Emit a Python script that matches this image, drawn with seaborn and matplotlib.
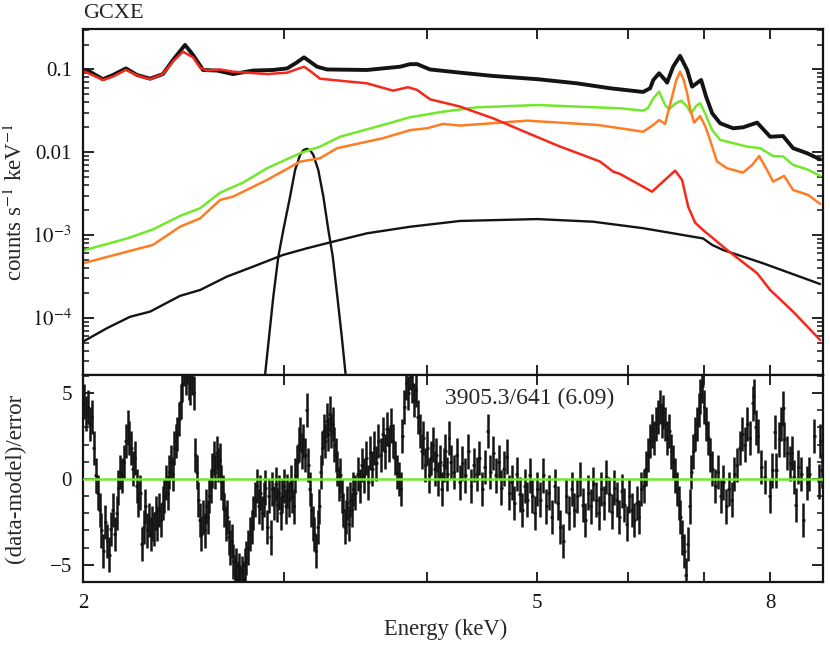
import numpy as np
import pandas as pd
import matplotlib
matplotlib.use("Agg")
import matplotlib.pyplot as plt
import seaborn as sns
from matplotlib.ticker import FixedLocator, NullLocator, FixedFormatter, NullFormatter, LogLocator, MultipleLocator

sns.set_style("ticks")
plt.rcParams["font.family"] = ["Liberation Serif", "DejaVu Serif"]
plt.rcParams["mathtext.fontset"] = "stix"

# ---------------- data ----------------
title_text = "GCXE"
chi_text = "3905.3/641 (6.09)"
x_ticks = [2, 3, 4, 5, 6, 7, 8]
x_ticklabels = ["2", "", "", "5", "", "", "8"]
y_ticks = [1e-4, 1e-3, 1e-2, 1e-1]
y_ticklabels = ["$10^{-4}$", "$10^{-3}$", "0.01", "0.1"]
r_ticks = [-5, 0, 5]
r_ticklabels = ["\u22125", "0", "5"]

# observed spectrum (total)
data_E = [2.000, 2.028, 2.082, 2.125, 2.181, 2.230, 2.290, 2.350, 2.398, 2.457,
          2.497, 2.548, 2.621, 2.707, 2.818, 2.934, 3.019, 3.074, 3.124, 3.207,
          3.272, 3.547, 3.792, 3.869, 3.924, 4.028, 4.280, 4.574, 5.009, 5.419,
          5.792, 6.191, 6.279, 6.320, 6.394, 6.472, 6.498, 6.577, 6.670, 6.766,
          6.834, 6.960, 7.030, 7.116, 7.232, 7.423, 7.574, 7.792, 8.000, 8.211,
          8.378, 8.620, 8.848]
data_v = [0.100, 0.094, 0.0762, 0.0858, 0.103, 0.0858, 0.0774, 0.088, 0.130, 0.198,
          0.150, 0.0986, 0.097, 0.088, 0.097, 0.0986, 0.103, 0.120, 0.140, 0.108,
          0.100, 0.0986, 0.108, 0.116, 0.116, 0.100, 0.0915, 0.0835, 0.0762, 0.068,
          0.0593, 0.0535, 0.0593, 0.0747, 0.090, 0.0747, 0.0693, 0.108, 0.146, 0.0986,
          0.062, 0.0747, 0.0469, 0.0296, 0.0224, 0.0195, 0.0200, 0.0228, 0.0154, 0.0157,
          0.0112, 0.00973, 0.0082]

# red component
red_E = [2.000, 2.041, 2.082, 2.125, 2.181, 2.230, 2.290, 2.350, 2.398, 2.447,
         2.497, 2.533, 2.569, 2.637, 2.707, 2.801, 2.899, 3.019, 3.074, 3.124,
         3.175, 3.226, 3.312, 3.547, 3.738, 3.853, 3.924, 4.028, 4.280, 4.574,
         4.899, 5.237, 5.529, 5.677, 5.827, 5.910, 6.304, 6.445, 6.604, 6.698,
         6.780, 6.876, 6.987, 7.334, 7.792, 8.000, 8.378, 8.848]
red_v = [0.096, 0.085, 0.0746, 0.082, 0.099, 0.085, 0.0762, 0.088, 0.125, 0.164,
         0.140, 0.105, 0.097, 0.100, 0.094, 0.091, 0.088, 0.0915, 0.100, 0.108,
         0.092, 0.0774, 0.0746, 0.068, 0.0555, 0.061, 0.0566, 0.0436, 0.0356, 0.0257,
         0.0172, 0.0117, 0.00886, 0.0077, 0.00584, 0.00547, 0.00334, 0.00442, 0.0060, 0.00462,
         0.0022, 0.00141, 0.00115, 6.6e-4, 3.46e-4, 2.17e-4, 1.19e-4, 5.4e-5]

# green component
green_E = [2.000, 2.186, 2.303, 2.432, 2.533, 2.637, 2.762, 2.899, 3.099, 3.226,
           3.359, 3.664, 3.869, 4.135, 4.429, 4.999, 5.419, 5.910, 6.191, 6.250,
           6.320, 6.394, 6.472, 6.524, 6.600, 6.684, 6.760, 6.821, 6.890, 6.946,
           7.020, 7.116, 7.232, 7.636, 7.840, 8.047, 8.211, 8.378, 8.620, 8.848]
green_v = [6.5e-4, 9.1e-4, 1.17e-3, 1.70e-3, 2.11e-3, 3.25e-3, 4.3e-3, 6.41e-3, 9.73e-3, 0.0117,
           0.0154, 0.0214, 0.0265, 0.0309, 0.0349, 0.0372, 0.0356, 0.034, 0.0318, 0.034,
           0.0449, 0.054, 0.0373, 0.033, 0.0383, 0.042, 0.0362, 0.0296, 0.0362, 0.0391,
           0.029, 0.0186, 0.0141, 0.0117, 0.0112, 0.0090, 0.0089, 0.00703, 0.00622, 0.00518]

# orange component
orange_E = [2.000, 2.186, 2.303, 2.432, 2.533, 2.637, 2.707, 2.899, 3.099, 3.226,
            3.339, 3.664, 3.869, 4.004, 4.135, 4.280, 4.899, 5.642, 5.910, 6.191,
            6.320, 6.394, 6.472, 6.564, 6.620, 6.670, 6.720, 6.766, 6.810, 6.862,
            6.946, 7.020, 7.086, 7.187, 7.334, 7.574, 7.714, 7.824, 7.950, 8.047,
            8.228, 8.378, 8.637, 8.848]
orange_v = [4.56e-4, 6.3e-4, 7.6e-4, 1.26e-3, 1.59e-3, 2.65e-3, 2.91e-3, 4.63e-3, 7.7e-3, 8.47e-3,
            0.0112, 0.0148, 0.0185, 0.0195, 0.022, 0.021, 0.0241, 0.0214, 0.0195, 0.0177,
            0.0214, 0.0245, 0.022, 0.047, 0.0746, 0.094, 0.0746, 0.0517, 0.0324, 0.0228,
            0.0274, 0.0204, 0.0141, 0.0077, 0.0064, 0.00568, 0.00703, 0.009, 0.0061, 0.00442,
            0.00518, 0.0035, 0.00305, 0.00238]

# broad black continuum component
cont_E = [2.000, 2.099, 2.199, 2.290, 2.432, 2.533, 2.674, 2.818, 2.994, 3.143,
          3.312, 3.547, 3.869, 4.280, 4.999, 5.597, 6.191, 6.987, 7.116, 7.275,
          7.886, 8.848]
cont_v = [5.16e-5, 7.5e-5, 1.03e-4, 1.19e-4, 1.84e-4, 2.17e-4, 3.15e-4, 4.15e-4, 5.75e-4, 6.93e-4,
          8.32e-4, 1.05e-3, 1.26e-3, 1.48e-3, 1.56e-3, 1.45e-3, 1.21e-3, 9.1e-4, 7.6e-4, 6.6e-4,
          4.56e-4, 2.56e-4]

# narrow black line component
gauss_E = [2.870, 2.887, 2.911, 2.936, 2.966, 2.996, 3.037, 3.068, 3.099, 3.120,
           3.141, 3.162, 3.183, 3.215, 3.248, 3.281, 3.310, 3.341, 3.371, 3.398, 3.415]
gauss_v = [1.0e-5, 2.0e-5, 5.9e-5, 1.8e-4, 5.5e-4, 1.15e-3, 2.91e-3, 6.1e-3, 9.3e-3, 1.06e-2,
           1.1e-2, 1.06e-2, 9.3e-3, 6.1e-3, 2.91e-3, 1.15e-3, 5.5e-4, 1.8e-4, 5.9e-5, 2.0e-5, 1.0e-5]

# residuals (data-model)/error
res_E = [2.004, 2.012, 2.020, 2.028, 2.036, 2.044, 2.052, 2.060,
         2.068, 2.076, 2.084, 2.092, 2.100, 2.108, 2.116, 2.124, 2.132, 2.140, 2.148, 2.156, 2.164, 2.172,
         2.180, 2.188, 2.196, 2.204, 2.212, 2.220, 2.228, 2.236, 2.244, 2.252, 2.260, 2.268,
         2.276, 2.284, 2.292, 2.300, 2.308, 2.316, 2.324, 2.332, 2.340, 2.348,
         2.356, 2.364, 2.372, 2.380, 2.388, 2.396, 2.404, 2.412, 2.420, 2.428,
         2.436, 2.444, 2.452, 2.460, 2.468, 2.476, 2.484, 2.492, 2.500,
         2.508, 2.516, 2.524, 2.532, 2.540, 2.548, 2.556, 2.564, 2.572, 2.580, 2.588, 2.596,
         2.604, 2.612, 2.620, 2.628, 2.636, 2.644, 2.652,
         2.660, 2.668, 2.676, 2.684, 2.692, 2.700, 2.708, 2.716, 2.724, 2.732,
         2.740, 2.748, 2.756, 2.764, 2.772, 2.780, 2.790, 2.800, 2.810, 2.820,
         2.830, 2.840, 2.850, 2.860, 2.870, 2.880, 2.890, 2.900, 2.910, 2.920,
         2.930, 2.940, 2.950, 2.960, 2.970, 2.980, 2.990, 3.000, 3.010, 3.020,
         3.030, 3.040, 3.050, 3.060, 3.070,
         3.080, 3.090, 3.100, 3.110, 3.120, 3.130, 3.140,
         3.150, 3.160, 3.170, 3.180, 3.190, 3.200, 3.210, 3.220,
         3.230, 3.240, 3.250, 3.260, 3.270, 3.280, 3.290, 3.300, 3.310, 3.320, 3.330,
         3.340, 3.350, 3.360, 3.370, 3.380, 3.390, 3.400, 3.410, 3.420, 3.430, 3.440, 3.450,
         3.465, 3.480, 3.495, 3.510, 3.525, 3.540, 3.555, 3.570, 3.585, 3.600,
         3.615, 3.630, 3.645, 3.660, 3.675, 3.690, 3.705, 3.720, 3.735, 3.750, 3.765, 3.780,
         3.795, 3.810, 3.825, 3.840, 3.855, 3.870, 3.885, 3.900, 3.915, 3.930,
         3.945, 3.960, 3.975, 3.990, 4.005, 4.020, 4.035, 4.050, 4.065, 4.080,
         4.095, 4.110, 4.125, 4.140, 4.155, 4.170, 4.185, 4.200,
         4.225, 4.250, 4.275, 4.300, 4.325, 4.350, 4.375, 4.400, 4.425, 4.450,
         4.475, 4.500, 4.525, 4.550, 4.575, 4.600, 4.625, 4.650, 4.675, 4.700,
         4.725, 4.750, 4.775, 4.800, 4.825, 4.850, 4.875, 4.900, 4.925, 4.950,
         4.975, 5.000,
         5.030, 5.060, 5.090, 5.120, 5.150, 5.180, 5.210, 5.240, 5.270, 5.300,
         5.330, 5.360, 5.390, 5.420, 5.450, 5.480, 5.510, 5.540, 5.570, 5.600,
         5.630, 5.660, 5.690, 5.720, 5.750, 5.780, 5.810, 5.840, 5.870, 5.900,
         5.930, 5.960, 5.990, 6.020, 6.050, 6.080, 6.110, 6.140, 6.170,
         6.200, 6.225, 6.250, 6.275, 6.300, 6.325, 6.350, 6.375, 6.400, 6.425, 6.450,
         6.475, 6.500, 6.525, 6.550, 6.575, 6.600, 6.625, 6.650, 6.675, 6.700, 6.725, 6.750, 6.775,
         6.800, 6.825, 6.850, 6.875, 6.900, 6.925, 6.950, 6.975, 7.000,
         7.030, 7.060, 7.090, 7.120, 7.160, 7.200, 7.240, 7.280, 7.320, 7.360, 7.400, 7.440,
         7.480, 7.520, 7.560, 7.600, 7.640, 7.680, 7.720, 7.740, 7.770,
         7.80, 7.86, 7.91, 7.99, 8.03, 8.07, 8.10, 8.15, 8.18, 8.21,
         8.23, 8.28, 8.33, 8.36, 8.39, 8.42, 8.47, 8.52, 8.55, 8.62,
         8.66, 8.74, 8.82, 8.85, 8.88]
res_v = [4.5, 3.8, 4.2, 3.2, 3.6, 1.8, 0.2, -0.8,
         -1.8, -3.0, -4.2, -2.5, -3.6, -4.4, -2.9, -1.8, -3.2, -2.0, -0.5, 0.4, 0.2, 1.0,
         2.2, 3.0, 2.4, 1.8, 0.6, 1.2, -0.4, -1.2, -0.8, -3.8, -2.8, -1.6,
         -3.0, -2.4, -3.2, -2.6, -2.9, -2.0, -2.6, -1.8, -2.4, -1.4,
         -1.0, -0.2, -0.8, 0.4, 1.0, 0.3, 1.8, 2.2, 2.6, 3.5,
         4.5, 5.5, 6.4, 5.9, 6.6, 5.6, 5.3, 5.9, 5.0,
         1.4, 0.4, -1.2, -2.4, -3.2, -2.2, -3.0, -1.6, -2.2, -1.0, -0.4, 0.5,
         1.2, 0.4, 1.5, 0.8, 1.1, -0.2, -0.8,
         -1.8, -2.6, -2.2, -3.4, -4.0, -3.6, -4.8, -5.4, -5.0, -5.8,
         -5.3, -6.0, -5.5, -5.8, -5.0, -4.6, -4.0, -3.2, -2.8, -2.0,
         -1.2, -0.4, -1.6, -0.8, -2.0, -1.2, -0.5, -2.8, -1.0, -3.4,
         -0.6, -1.4, -0.3, -1.5, -0.8, -2.0, -1.0, -0.4, -1.6, -0.7,
         -1.2, -0.2, -1.0, -1.6, 0.2,
         1.0, 2.0, 2.6, 1.6, 2.2, 1.4, 4.0,
         0.8, -0.6, -1.8, -2.6, -3.2, -4.2, -2.8, -1.6,
         0.4, 1.8, 2.8, 2.2, 3.4, 2.6, 3.8, 2.8, 3.2, 2.0, 1.4,
         0.6, -0.3, 0.2, -1.0, -1.8, -2.8, -2.2, -1.4, -2.6, -1.2, -1.8, -0.6,
         -0.8, 0.3, -0.4, 0.8, 0.2, 1.2, -0.2, 1.5, 0.6, 1.8,
         0.9, 2.2, 1.4, 2.6, 1.6, 2.9, 2.0, 3.1, 2.2, 1.2, 0.4, 0.0,
         -0.6, 2.5, 4.2, 5.6, 5.0, 6.2, 5.4, 4.6, 5.2, 3.6,
         2.8, 1.6, 2.4, 0.8, 1.8, 0.2, 1.2, 2.0, 0.6, 1.4,
         0.0, 1.0, -0.6, 0.8, 1.6, 0.3, 2.4, 1.0,
         0.4, 1.4, -0.2, 0.9, 0.2, 1.6, -0.4, 0.8, 0.3, 1.2,
         -0.6, 0.7, 2.8, 0.4, 1.5, 0.2, 1.0, -0.5, 0.6, 1.3,
         -0.8, -0.2, -1.4, 0.3, -0.9, -1.8, -0.4, -1.2, 0.2, -1.0,
         -2.0, -0.6,
         -1.2, 0.2, -1.6, -0.8, -2.2, -0.4, -1.4, -2.8, -3.6, -1.0,
         -2.0, -0.6, -1.8, -1.0, 0.0, -1.5, -2.4, -0.8, -1.6, -0.3,
         -1.2, -2.0, -0.6, -1.4, 0.1, -0.9, -1.9, -0.5, -1.2, -2.2,
         -0.7, -1.5, -2.6, -1.0, -1.8, -2.4, -1.4, -2.2, -0.6,
         -0.4, 0.6, 1.4, 2.2, 2.8, 2.4, 3.2, 3.6, 4.2, 3.4, 3.9,
         3.2, 2.4, 2.8, 1.6, 1.0, 0.2, -0.6, -1.4, -2.2, -3.4, -4.2, -5.6, -3.8,
         -1.6, 0.4, 1.6, 2.6, 3.2, 4.0, 4.8, 5.4, 4.2,
         3.2, 2.4, 1.4, 0.6, -0.4, 0.4, -1.0, -0.2, -1.6, -0.6, -1.2, 0.3,
         0.8, 1.8, 2.6, 2.0, 3.2, 2.4, 4.4, 4.8, 3.0,
         2.5, 0.7, 0.1, -1.0, 0.5, 2.75, 0.5, 2.3, 3.2, 4.1,
         2.3, 1.5, 0.9, 1.5, 0.1, -1.5, 0.7, 0.3, -2.4, -0.25,
         0.3, 2.5, -0.15, 2.2, 0.5]

# ---------------- style ----------------
BLACK = "#141414"
RED = "#f5281c"
GREEN = "#72e82c"
ORANGE = "#ff7d22"

fig = plt.figure(figsize=(8.3, 6.45), dpi=100)
ax1 = fig.add_axes([0.1, 0.4186, 0.8916, 0.5364])
ax2 = fig.add_axes([0.1, 0.0977, 0.8916, 0.3209])

# top panel
sns.lineplot(x=data_E, y=data_v, ax=ax1, color=BLACK, lw=2.8, sort=False, estimator=None)
sns.lineplot(x=cont_E, y=cont_v, ax=ax1, color=BLACK, lw=1.7, sort=False, estimator=None)
sns.lineplot(x=gauss_E, y=gauss_v, ax=ax1, color=BLACK, lw=1.7, sort=False, estimator=None)
sns.lineplot(x=green_E, y=green_v, ax=ax1, color=GREEN, lw=1.8, sort=False, estimator=None)
sns.lineplot(x=orange_E, y=orange_v, ax=ax1, color=ORANGE, lw=1.8, sort=False, estimator=None)
sns.lineplot(x=red_E, y=red_v, ax=ax1, color=RED, lw=1.8, sort=False, estimator=None)

ax1.set_xscale("log")
ax1.set_yscale("log")
ax1.set_xlim(2.0, 8.9)
ax1.set_ylim(2.04e-5, 0.308)

# bottom panel
ax2.errorbar(res_E, res_v, yerr=1.0, xerr=[0.003 * e for e in res_E], fmt="none",
             ecolor=BLACK, elinewidth=1.8, capsize=0, zorder=2)
sns.scatterplot(x=res_E, y=res_v, ax=ax2, color=BLACK, s=3, linewidth=0, zorder=3)
ax2.axhline(0, color=GREEN, lw=1.8, zorder=4)
ax2.set_xscale("log")
ax2.set_xlim(2.0, 8.9)
ax2.set_ylim(-6.0, 6.05)

TICK_FS = 15
for ax in (ax1, ax2):
    ax.xaxis.set_major_locator(FixedLocator(x_ticks))
    ax.xaxis.set_minor_locator(NullLocator())
    ax.tick_params(which="both", direction="in", top=True, right=True,
                   labelsize=TICK_FS, colors=BLACK)
    ax.tick_params(which="major", length=7, width=1.3)
    ax.tick_params(which="minor", length=4, width=1.1)
    for s in ax.spines.values():
        s.set_linewidth(1.6)
        s.set_color(BLACK)

ax1.tick_params(axis="x", labelbottom=False)
ax1.yaxis.set_major_locator(FixedLocator(y_ticks))
ax1.yaxis.set_major_formatter(FixedFormatter(y_ticklabels))
ax1.yaxis.set_minor_locator(LogLocator(base=10, subs=np.arange(2, 10)))
ax1.yaxis.set_minor_formatter(NullFormatter())
ax1.tick_params(axis="y", which="major", length=8, pad=8)

ax2.xaxis.set_major_formatter(FixedFormatter(x_ticklabels))
ax2.tick_params(axis="x", pad=9)
ax2.yaxis.set_major_locator(FixedLocator(r_ticks))
ax2.yaxis.set_major_formatter(FixedFormatter(r_ticklabels))
ax2.yaxis.set_minor_locator(MultipleLocator(1))
ax2.tick_params(axis="y", which="major", length=8, pad=8)

ax1.set_xlabel("")
ax1.set_ylabel("counts s$^{-1}$ keV$^{-1}$", fontsize=16.5)
ax2.set_ylabel("(data-model)/error", fontsize=16.5)
for ax in (ax1, ax2):
    ax.yaxis.label.set_va("center")
    ax.yaxis.set_label_coords(-68.0 / 740.0, 0.5)
ax2.set_xlabel("Energy (keV)", fontsize=16.3)
ax2.xaxis.set_label_coords(0.49, -0.227)
ax2.xaxis.label.set_va("center")

fig.text(0.1, 1 - 14 / 645, title_text, ha="left", va="center", fontsize=16)
ax2.text(0.604, 0.889, chi_text, transform=ax2.transAxes, ha="center", va="center", fontsize=17)

fig.savefig("out.png", dpi=100)
